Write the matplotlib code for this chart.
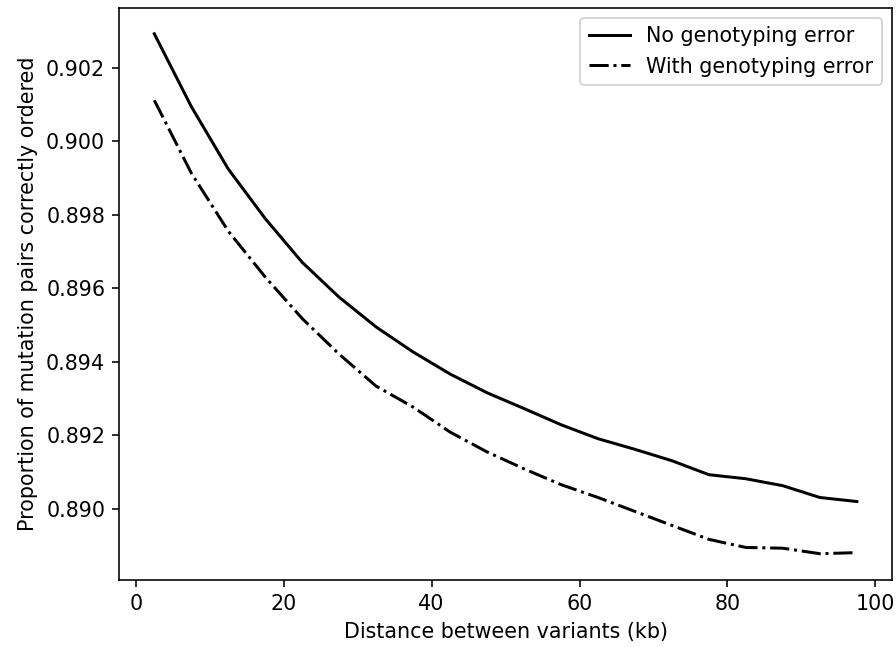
import numpy as np
import matplotlib
matplotlib.use('Agg')
import matplotlib.pyplot as plt

# distance bins (kb), midpoints
distance = [2.5, 7.5, 12.5, 17.5, 22.5, 27.5, 32.5, 37.5, 42.5, 47.5,
            52.5, 57.5, 62.5, 67.5, 72.5, 77.5, 82.5, 87.5, 92.5, 97.5]
no_error = [0.90292, 0.90094, 0.89924, 0.89789, 0.89670, 0.89575, 0.89494, 0.89426, 0.89366, 0.89315,
            0.89272, 0.89228, 0.89190, 0.89161, 0.89130, 0.89092, 0.89081, 0.89062, 0.89030, 0.89019]
with_error = [0.90111, 0.89913, 0.89755, 0.89630, 0.89517, 0.89420, 0.89333, 0.89276, 0.89208, 0.89154,
              0.89108, 0.89065, 0.89030, 0.88992, 0.88954, 0.88916, 0.88894, 0.88892, 0.88877, 0.88880]

plt.rcParams['font.size'] = 10.3
fig, ax = plt.subplots(figsize=(896 / 144, 647 / 144), dpi=144)
fig.subplots_adjust(left=0.133, right=0.9955, top=0.988, bottom=0.104)

ax.plot(distance, no_error, color='black', lw=1.5, label='No genotyping error')
ax.plot(distance, with_error, color='black', lw=1.5, ls='-.', label='With genotyping error')
ax.set_xlabel('Distance between variants (kb)')
ax.set_ylabel('Proportion of mutation pairs correctly ordered')
ax.legend(loc='upper right')

fig.savefig('out.png', dpi=144)
